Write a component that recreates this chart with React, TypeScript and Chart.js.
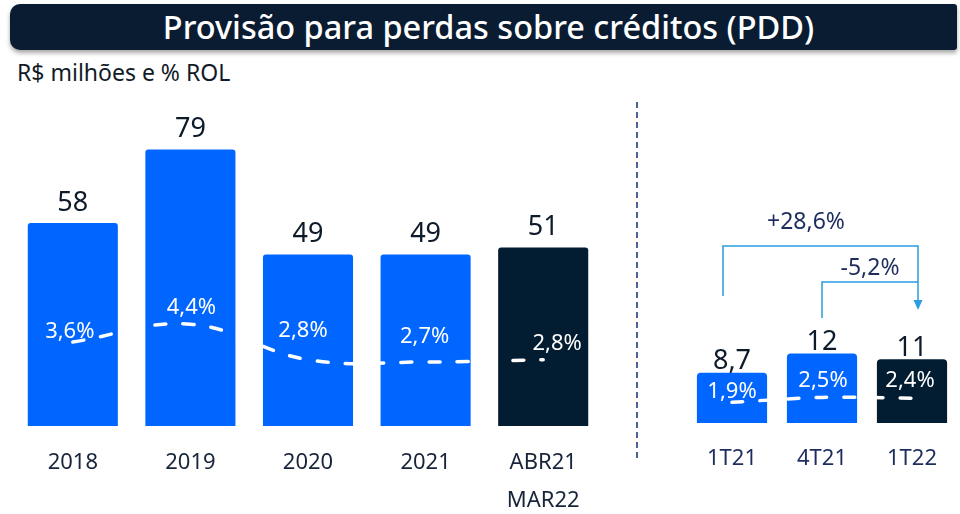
import React, { useEffect, useRef } from 'react';
import { Chart, registerables } from 'chart.js';
Chart.register(...registerables);

const FONT = '"Noto Sans", "Open Sans", sans-serif';

// ---- data ----
const yearCategories: (string | string[])[] = ['2018', '2019', '2020', '2021', ['ABR21', 'MAR22']];
const yearValues = [58, 79, 49, 49, 51];
const yearPct = [3.6, 4.4, 2.8, 2.7, 2.8];
const quarterCategories = ['1T21', '4T21', '1T22'];
const quarterValues = [8.7, 12, 11];
const quarterPct = [1.9, 2.5, 2.4];
const growthLabels = ['+28,6%', '-5,2%'];
const titleText = 'Provisão para perdas sobre créditos (PDD)';
const subtitleText = 'R$ milhões e % ROL';

// ---- style ----
const BLUE = '#0066ff';
const NAVY = '#021c31';
const VALUE_COLOR = '#0d1a2a';
const yearBarColors = [BLUE, BLUE, BLUE, BLUE, NAVY];
const quarterBarColors = [BLUE, BLUE, NAVY];
const yearPctOffsets = [[-3, -10], [1, -16], [-5, -29], [-1, -25], [14, -16]];
const quarterPctOffsets = [[0, -11], [1, -17], [-2, -17]];

const fmtNum = (v: number) => String(v).replace('.', ',');
const fmtPct = (v: number) => v.toFixed(1).replace('.', ',') + '%';

function labelsPlugin(values: number[], pcts: number[], offsets: number[][], valueSize: number, valueGap: number) {
  return {
    id: 'valueLabels',
    afterDatasetsDraw(chart: any) {
      const ctx = chart.ctx;
      const lineMeta = chart.getDatasetMeta(0);
      const barMeta = chart.getDatasetMeta(1);
      ctx.save();
      ctx.textAlign = 'center';
      ctx.textBaseline = 'middle';
      ctx.font = `${valueSize}px ${FONT}`;
      ctx.fillStyle = VALUE_COLOR;
      barMeta.data.forEach((bar: any, i: number) => {
        ctx.fillText(fmtNum(values[i]), bar.x, bar.y - valueGap);
      });
      ctx.font = `22px ${FONT}`;
      ctx.fillStyle = '#ffffff';
      lineMeta.data.forEach((pt: any, i: number) => {
        ctx.fillText(fmtPct(pcts[i]), pt.x + offsets[i][0], pt.y + offsets[i][1]);
      });
      ctx.restore();
    },
  };
}

const bracketPlugin = {
  id: 'brackets',
  afterDraw(chart: any) {
    const ctx = chart.ctx;
    const xs = chart.scales.x;
    const x0 = xs.getPixelForValue(0) - 9;
    const x1 = xs.getPixelForValue(1);
    const x2 = xs.getPixelForValue(2) + 6;
    ctx.save();
    ctx.strokeStyle = '#2a9ee0';
    ctx.fillStyle = '#2a9ee0';
    ctx.lineWidth = 1.5;
    ctx.beginPath();
    ctx.moveTo(x0, 296);
    ctx.lineTo(x0, 246);
    ctx.lineTo(x2, 246);
    ctx.lineTo(x2, 302);
    ctx.moveTo(x1, 318);
    ctx.lineTo(x1, 282);
    ctx.lineTo(x2, 282);
    ctx.stroke();
    ctx.beginPath();
    ctx.moveTo(x2 - 4.5, 300);
    ctx.lineTo(x2 + 4.5, 300);
    ctx.lineTo(x2, 310);
    ctx.closePath();
    ctx.fill();
    ctx.fillStyle = '#1c2d5e';
    ctx.font = `23px ${FONT}`;
    ctx.textAlign = 'center';
    ctx.textBaseline = 'middle';
    ctx.fillText(growthLabels[0], x1 - 16, 222);
    ctx.fillText(growthLabels[1], (x1 + x2) / 2, 268);
    ctx.restore();
  },
};

function makeConfig(opts: any) {
  return {
    type: 'bar',
    data: {
      labels: opts.labels,
      datasets: [
        {
          type: 'line',
          data: opts.pcts,
          yAxisID: 'y1',
          borderColor: '#ffffff',
          borderWidth: 3.5,
          borderDash: [11, 17],
          borderCapStyle: 'round',
          pointRadius: 0,
          tension: opts.tension,
          order: 0,
        },
        {
          type: 'bar',
          data: opts.values,
          yAxisID: 'y',
          backgroundColor: opts.colors,
          borderRadius: opts.radius,
          borderSkipped: 'start',
          barPercentage: 1,
          categoryPercentage: opts.catPct,
          order: 1,
        },
      ],
    },
    options: {
      animation: false,
      responsive: false,
      maintainAspectRatio: false,
      events: [],
      layout: { padding: opts.padding },
      plugins: { legend: { display: false }, tooltip: { enabled: false } },
      scales: {
        x: {
          grid: { display: false, drawTicks: false },
          border: { display: false },
          ticks: {
            color: opts.tickColor,
            padding: opts.tickPadding,
            font: { family: FONT, size: 22, lineHeight: 1.73 },
            maxRotation: 0,
            autoSkip: false,
          },
        },
        y: { display: false, min: 0, max: opts.yMax },
        y1: { display: false, min: opts.y1Min, max: opts.y1Max },
      },
    },
    plugins: opts.plugins,
  };
}

function ChartCanvas({ config, width, height, left }: any) {
  const ref = useRef<HTMLCanvasElement>(null);
  useEffect(() => {
    const chart = new Chart(ref.current as HTMLCanvasElement, config);
    return () => chart.destroy();
  }, []);
  return (
    <canvas
      ref={ref}
      width={width}
      height={height}
      style={{ position: 'absolute', left, top: 0, width, height }}
    />
  );
}

export default function App() {
  const leftConfig = makeConfig({
    labels: yearCategories,
    values: yearValues,
    pcts: yearPct,
    colors: yearBarColors,
    radius: 3,
    catPct: 0.766,
    tension: 0.4,
    padding: { top: 146, left: 14, right: 23, bottom: 12 },
    tickColor: '#17243a',
    tickPadding: 18,
    yMax: 80,
    y1Min: -0.18,
    y1Max: 12.43,
    plugins: [labelsPlugin(yearValues, yearPct, yearPctOffsets, 27, 20)],
  });
  const rightConfig = makeConfig({
    labels: quarterCategories,
    values: quarterValues,
    pcts: quarterPct,
    colors: quarterBarColors,
    radius: 4,
    catPct: 0.78,
    tension: 0.3,
    padding: { top: 146, left: 37, right: 3, bottom: 45 },
    tickColor: '#1c2d5e',
    tickPadding: 17,
    yMax: 47.9,
    y1Min: -0.6,
    y1Max: 33.0,
    plugins: [labelsPlugin(quarterValues, quarterPct, quarterPctOffsets, 27, 11), bracketPlugin],
  });

  return (
    <div
      style={{
        position: 'fixed',
        left: 0,
        top: 0,
        width: 960,
        height: 514,
        overflow: 'hidden',
        background: '#ffffff',
        fontFamily: FONT,
      }}
    >
      <div
        style={{
          position: 'absolute',
          left: 10,
          top: 4,
          width: 947,
          height: 46,
          background: '#0a1c31',
          borderRadius: '10px 3px 3px 10px',
          boxShadow: '0 3px 4px rgba(0,0,0,0.35)',
          color: '#ffffff',
          fontSize: 32.5,
          fontWeight: 500,
          lineHeight: '46px',
          textAlign: 'center',
          paddingLeft: 10,
          boxSizing: 'border-box',
          whiteSpace: 'nowrap',
        }}
      >
        {titleText}
      </div>
      <div
        style={{
          position: 'absolute',
          left: 17,
          top: 56,
          fontSize: 23,
          color: '#111a26',
          whiteSpace: 'nowrap',
        }}
      >
        {subtitleText}
      </div>
      <ChartCanvas config={leftConfig} width={625} height={550} left={0} />
      <ChartCanvas config={rightConfig} width={310} height={540} left={650} />
      <div
        style={{
          position: 'absolute',
          left: 636,
          top: 102,
          width: 2,
          height: 358,
          background: 'repeating-linear-gradient(to bottom, #4b6192 0px, #4b6192 6px, transparent 6px, transparent 10px)',
        }}
      />
    </div>
  );
}
